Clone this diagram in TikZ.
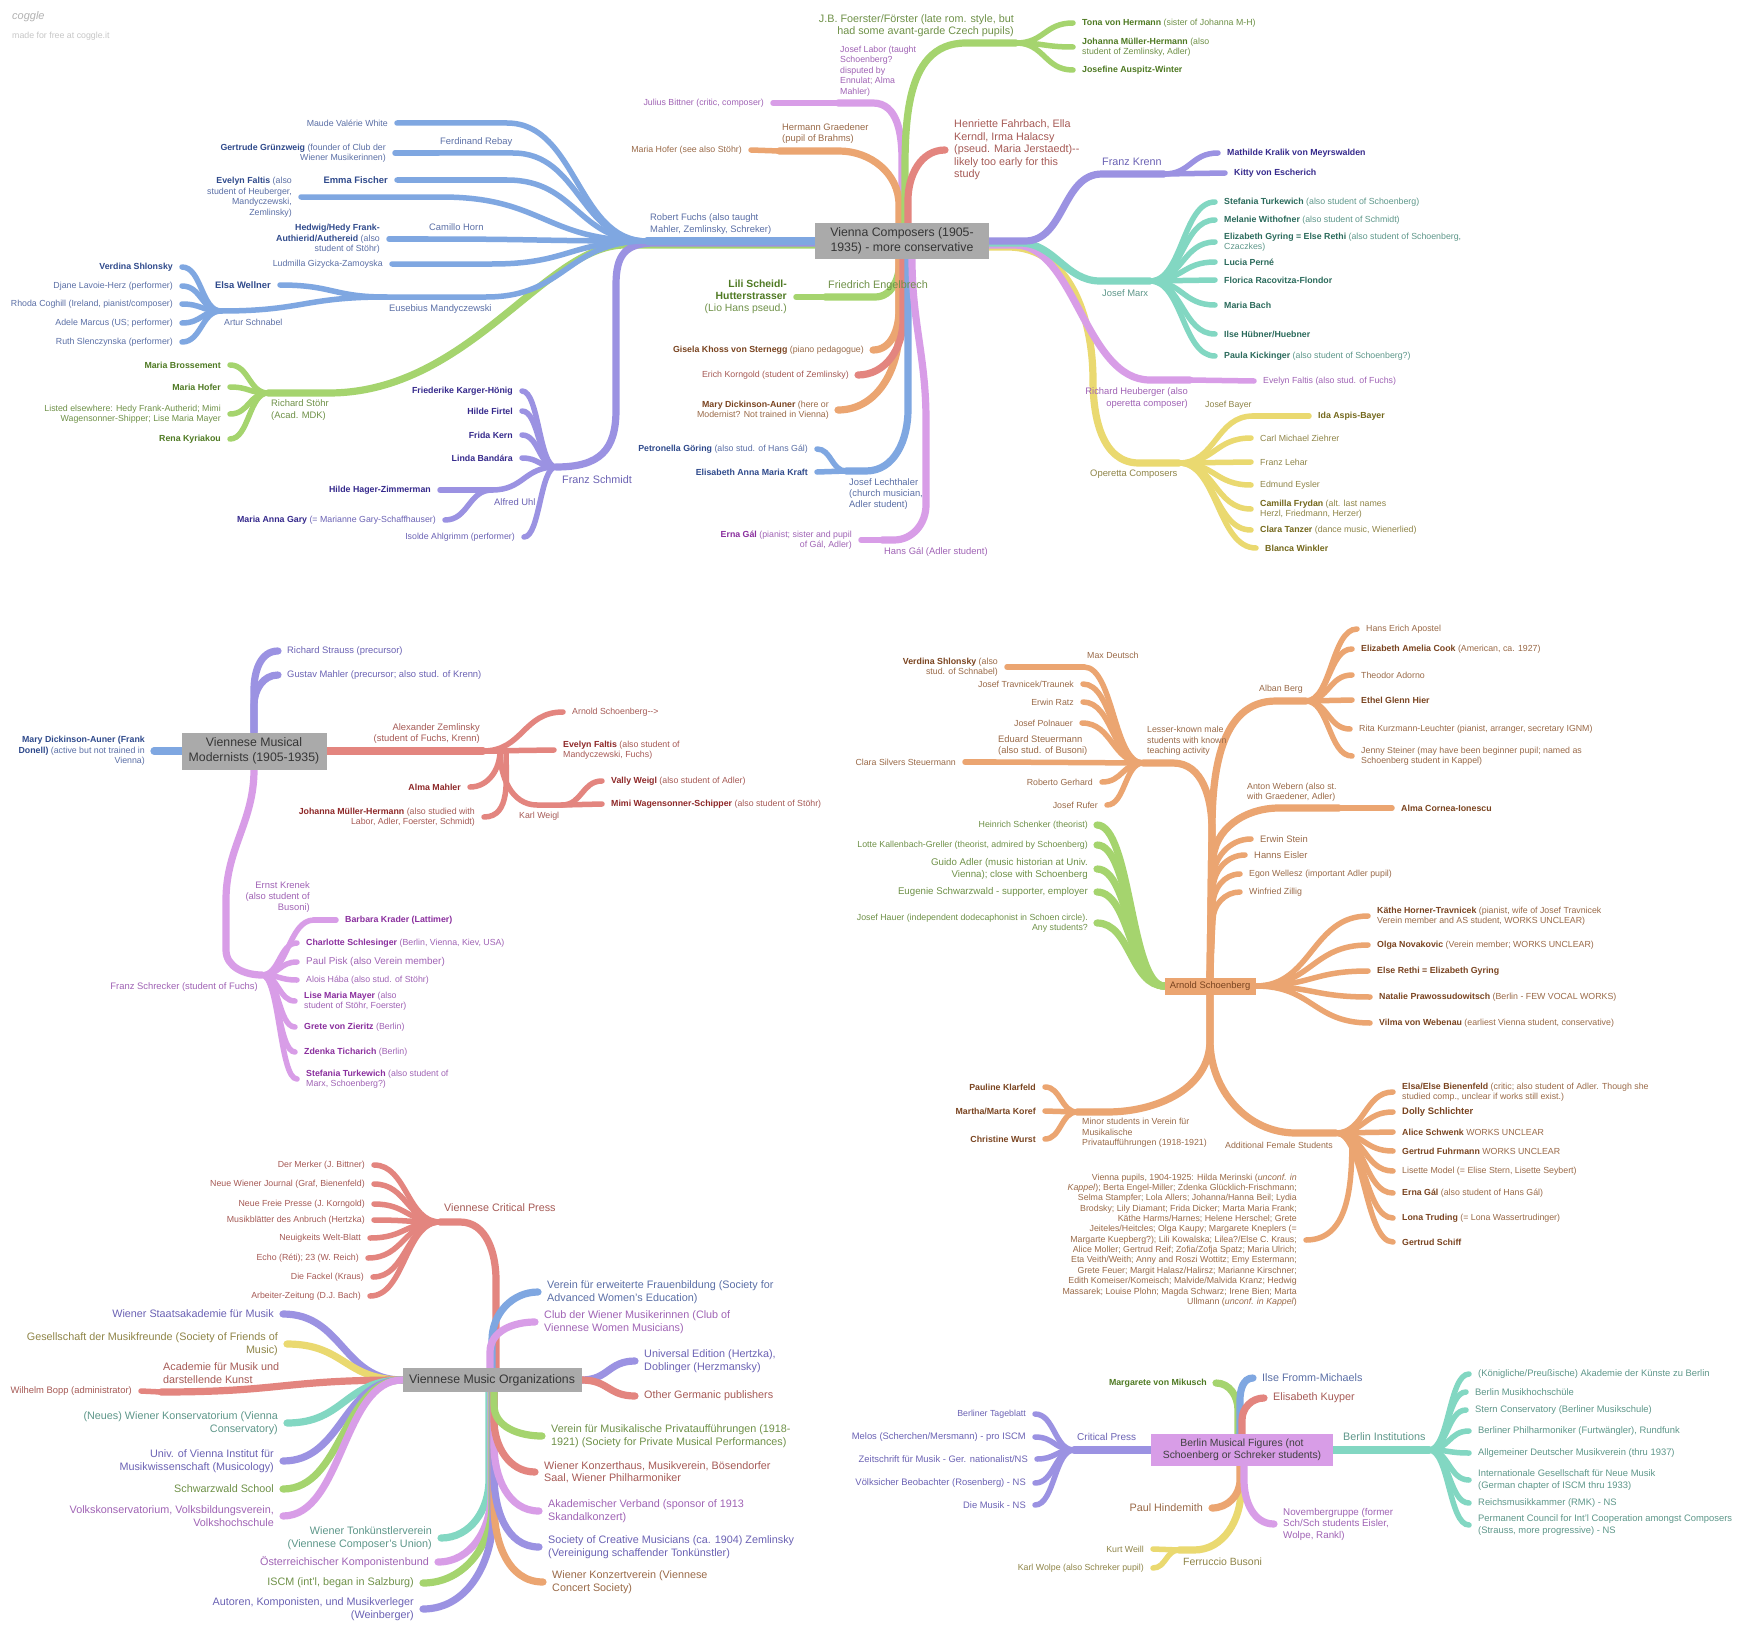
\documentclass[tikz,border=0pt]{standalone}
\usepackage{fontspec}
\setmainfont{Liberation Sans}
\usetikzlibrary{calc}
\definecolor{cB}{HTML}{7FA7E1}\definecolor{tB}{HTML}{2F4A8C}\definecolor{sB}{HTML}{5B6FA6}
\definecolor{cG}{HTML}{A5D46E}\definecolor{tG}{HTML}{4F7A23}\definecolor{sG}{HTML}{6F9148}
\definecolor{cP}{HTML}{9B92E2}\definecolor{tP}{HTML}{35298C}\definecolor{sP}{HTML}{6B62B4}
\definecolor{cK}{HTML}{D89DE7}\definecolor{tK}{HTML}{8A2E9E}\definecolor{sK}{HTML}{A063B5}
\definecolor{cO}{HTML}{EBA571}\definecolor{tO}{HTML}{7A4420}\definecolor{sO}{HTML}{9A6A48}
\definecolor{cR}{HTML}{E3857F}\definecolor{tR}{HTML}{8E2828}\definecolor{sR}{HTML}{A65A55}
\definecolor{cT}{HTML}{82D7C2}\definecolor{tT}{HTML}{2A6A5B}\definecolor{sT}{HTML}{5E978A}
\definecolor{cY}{HTML}{EAD970}\definecolor{tY}{HTML}{74681C}\definecolor{sY}{HTML}{8F8548}
\definecolor{boxg}{HTML}{AAAAAA}\definecolor{boxt}{HTML}{363636}
\colorlet{bc}{black}
\newcommand\fsA{\fontsize{8.8}{10.5}\selectfont}
\newcommand\fsB{\fontsize{9.4}{11.2}\selectfont}
\newcommand\fsC{\fontsize{10.8}{12.4}\selectfont}
\newcommand\fsD{\fontsize{12.3}{15}\selectfont}
\newcommand\nmb[1]{{\bfseries\color{bc}#1}}
\newcommand\conn[3]{\draw[#1] let \p1=(#2), \p2=(#3) in (\p1) .. controls ({0.5*\x1+0.5*\x2},\y1) and ({0.5*\x1+0.5*\x2},\y2) .. (\p2);}
\newcommand\connb[4]{\draw[#2] let \p1=(#3), \p2=(#4) in (\p1) .. controls ({0.5*\x1+0.5*\x2+0.5*(#1)},\y1) and ({0.5*\x1+0.5*\x2+0.5*(#1)},\y2) .. ({\x2+(#1)},\y2) -- (\p2);}
\pgfdeclarelayer{bgfill}\pgfdeclarelayer{lines}\pgfsetlayers{bgfill,lines,main}
\begin{document}
\begin{tikzpicture}[x=1pt,y=1pt,
  lf/.style={anchor=east,inner xsep=9pt,inner ysep=0pt,xshift=9pt,align=right,font=\fsA},
  rt/.style={anchor=west,inner xsep=9pt,inner ysep=0pt,xshift=-9pt,align=left,font=\fsA},
  lab/.style={inner sep=0pt,font=\fsA},
  br/.style={line width=5.5pt,line cap=round},
  tk/.style={line width=7.2pt,line cap=round},
  rbox/.style={fill=boxg,text=boxt,align=center,inner sep=0pt,font=\fsD},
  xB/.style={text=sB,execute at begin node={\colorlet{bc}{tB}}},
  xG/.style={text=sG,execute at begin node={\colorlet{bc}{tG}}},
  xP/.style={text=sP,execute at begin node={\colorlet{bc}{tP}}},
  xK/.style={text=sK,execute at begin node={\colorlet{bc}{tK}}},
  xO/.style={text=sO,execute at begin node={\colorlet{bc}{tO}}},
  xR/.style={text=sR,execute at begin node={\colorlet{bc}{tR}}},
  xT/.style={text=sT,execute at begin node={\colorlet{bc}{tT}}},
  xY/.style={text=sY,execute at begin node={\colorlet{bc}{tY}}}]
\useasboundingbox (0,0) rectangle (1746,-1643);
\begin{pgfonlayer}{bgfill}\fill[white] (0,0) rectangle (1746,-1643);\end{pgfonlayer}
% logo
\node[lab,anchor=west,text=black!30,font=\itshape\fontsize{11}{12}\selectfont] (logo) at (12,-17) {coggle};
\node[lab,anchor=west,text=black!22] (made) at (12,-36) {made for free at coggle.it};

% ===== Vienna Composers =====
\node[rbox,minimum width=174,minimum height=36] (vc) at (902,-241) {Vienna Composers (1905-\\1935) - more conservative};
\coordinate (fuchs) at (647,-241);
\node[lab,xB,font=\fsB,anchor=west,align=left] (fuchsL) at (650,-224) {Robert Fuchs (also taught\\Mahler, Zemlinsky, Schreker)};
\node[lf,xB] (mvw) at (388,-123) {Maude Valérie White};
\coordinate (rebay) at (438,-153);
\node[lab,xB,font=\fsB,anchor=west] (rebayL) at (440,-142) {Ferdinand Rebay};
\node[lf,xB] (ggr) at (386,-153) {\nmb{Gertrude Grünzweig} (founder of Club der\\Wiener Musikerinnen)};
\node[lf,xB,font=\fsB] (emma) at (388,-180) {\nmb{Emma Fischer}};
\node[lf,xB] (evf) at (292,-197) {\nmb{Evelyn Faltis} (also\\student of Heuberger,\\Mandyczewski,\\Zemlinsky)};
\coordinate (horn) at (427,-239);
\node[lab,xB,font=\fsB,anchor=west] (hornL) at (429,-227) {Camillo Horn};
\node[lf,xB] (hedy) at (380,-239) {\nmb{Hedwig/Hedy Frank-}\\\nmb{Authierid/Authereid} (also\\student of Stöhr)};
\node[lf,xB] (ludm) at (383,-264) {Ludmilla Gizycka-Zamoyska};
\coordinate (euseb) at (386,-297);
\node[lab,xB,font=\fsB,anchor=west] (eusebL) at (389,-309) {Eusebius Mandyczewski};
\node[lf,xB,font=\fsB] (elsa) at (271,-285) {\nmb{Elsa Wellner}};
\coordinate (schn) at (221,-311);
\node[lab,xB,anchor=west] (schnL) at (224,-322) {Artur Schnabel};
\node[lf,xB] (vsh) at (173,-267) {\nmb{Verdina Shlonsky}};
\node[lf,xB] (djl) at (173,-286) {Djane Lavoie-Herz (performer)};
\node[lf,xB] (rco) at (173,-304) {Rhoda Coghill (Ireland, pianist/composer)};
\node[lf,xB] (ama) at (173,-323) {Adele Marcus (US; performer)};
\node[lf,xB] (rsl) at (173,-342) {Ruth Slenczynska (performer)};
% Stoehr
\coordinate (stohr) at (268,-393);
\node[lab,xG,font=\fsB,anchor=west,align=left] (stohrL) at (271,-410) {Richard Stöhr\\(Acad. MDK)};
\node[lf,xG] (mbr) at (221,-365) {\nmb{Maria Brossement}};
\node[lf,xG] (mho) at (221,-387) {\nmb{Maria Hofer}};
\node[lf,xG] (lel) at (221,-414) {Listed elsewhere: Hedy Frank-Autherid; Mimi\\Wagensonner-Shipper; Lise Maria Mayer};
\node[lf,xG] (rky) at (221,-439) {\nmb{Rena Kyriakou}};
% Schmidt
\coordinate (schm) at (556,-467);
\node[lab,xP,font=\fsC,anchor=west] (schmL) at (562,-480) {Franz Schmidt};
\node[lf,xP] (fkh) at (513,-391) {\nmb{Friederike Karger-Hönig}};
\node[lf,xP] (hfi) at (513,-411) {\nmb{Hilde Firtel}};
\node[lf,xP] (fke) at (513,-435) {\nmb{Frida Kern}};
\node[lf,xP] (lba) at (513,-458) {\nmb{Linda Bandára}};
\coordinate (uhl) at (492,-490);
\node[lab,xP,font=\fsB,anchor=west] (uhlL) at (494,-502) {Alfred Uhl};
\node[lf,xP] (hhz) at (431,-490) {\nmb{Hilde Hager-Zimmerman}};
\node[lf,xP] (mag) at (436,-520) {\nmb{Maria Anna Gary} (= Marianne Gary-Schaffhauser)};
\node[lf,xP] (iah) at (515,-537) {Isolde Ahlgrimm (performer)};
% top
\coordinate (labor) at (838,-103);
\node[lab,xK,anchor=west,align=left] (laborL) at (840,-71) {Josef Labor (taught\\Schoenberg?\\disputed by\\Ennulat; Alma\\Mahler)};
\node[lf,xK] (jbit) at (764,-103) {Julius Bittner (critic, composer)};
\coordinate (graed) at (779,-151);
\node[lab,xO,font=\fsB,anchor=west,align=left] (graedL) at (782,-133.5) {Hermann Graedener\\(pupil of Brahms)};
\node[lf,xO] (mhof2) at (742,-150) {Maria Hofer (see also Stöhr)};
\coordinate (foer) at (1016,-43);
\node[lab,xG,font=\fsC,anchor=east,align=right] (foerL) at (1014,-26) {J.B. Foerster/Förster (late rom. style, but\\had some avant-garde Czech pupils)};
\node[rt,xG] (tona) at (1082,-23) {\nmb{Tona von Hermann} (sister of Johanna M-H)};
\node[rt,xG] (jmh) at (1082,-47) {\nmb{Johanna Müller-Hermann} (also\\student of Zemlinsky, Adler)};
\node[rt,xG] (jaw) at (1082,-70) {\nmb{Josefine Auspitz-Winter}};
\node[rt,xR,font=\fsC] (henr) at (954,-150) {Henriette Fahrbach, Ella\\Kerndl, Irma Halacsy\\(pseud. Maria Jerstaedt)-{}-\\likely too early for this\\study};
% bottom
\coordinate (engel) at (825,-297);
\node[lab,xG,font=\fsC,anchor=west] (engelL) at (828,-286) {Friedrich Engelbrech};
\node[lf,xG,font=\fontsize{10.4}{12}\selectfont] (lili) at (787,-297) {\nmb{Lili Scheidl-}\\\nmb{Hutterstrasser}\\(Lio Hans pseud.)};
\node[lf,xO] (gisela) at (864,-350) {\nmb{Gisela Khoss von Sternegg} (piano pedagogue)};
\node[lf,xR] (korn) at (849,-375) {Erich Korngold (student of Zemlinsky)};
\node[lf,xO] (mda) at (829,-410) {\nmb{Mary Dickinson-Auner} (here or\\Modernist? Not trained in Vienna)};
\coordinate (lecht) at (846,-471);
\node[lab,xB,font=\fsB,anchor=west,align=left] (lechtL) at (849,-494) {Josef Lechthaler\\(church musician,\\Adler student)};
\node[lf,xB] (pgo) at (808,-449) {\nmb{Petronella Göring} (also stud. of Hans Gál)};
\node[lf,xB] (eak) at (808,-472) {\nmb{Elisabeth Anna Maria Kraft}};
\coordinate (hgal) at (882,-540);
\node[lab,xK,font=\fsB,anchor=west] (hgalL) at (884,-552) {Hans Gál (Adler student)};
\node[lf,xK] (egal) at (852,-540) {\nmb{Erna Gál} (pianist; sister and pupil\\of Gál, Adler)};
% right
\coordinate (krenn) at (1164,-174);
\node[lab,xP,font=\fsC,anchor=west] (krennL) at (1102,-162) {Franz Krenn};
\node[rt,xP] (mkm) at (1227,-153) {\nmb{Mathilde Kralik von Meyrswalden}};
\node[rt,xP] (kve) at (1234,-173) {\nmb{Kitty von Escherich}};
\coordinate (marx) at (1150,-281);
\node[lab,xT,font=\fsB,anchor=west] (marxL) at (1102,-293) {Josef Marx};
\node[rt,xT] (stt) at (1224,-202) {\nmb{Stefania Turkewich} (also student of Schoenberg)};
\node[rt,xT] (mwi) at (1224,-220) {\nmb{Melanie Withofner} (also student of Schmidt)};
\node[rt,xT] (egy) at (1224,-242) {\nmb{Elizabeth Gyring = Else Rethi} (also student of Schoenberg,\\Czaczkes)};
\node[rt,xT] (lpe) at (1224,-262) {\nmb{Lucia Perné}};
\node[rt,xT] (frf) at (1224,-280) {\nmb{Florica Racovitza-Flondor}};
\node[rt,xT] (mba) at (1224,-305) {\nmb{Maria Bach}};
\node[rt,xT] (ihu) at (1224,-334) {\nmb{Ilse Hübner/Huebner}};
\node[rt,xT] (pki) at (1224,-356) {\nmb{Paula Kickinger} (also student of Schoenberg?)};
\coordinate (heub) at (1190,-380);
\node[lab,xK,font=\fsB,anchor=east,align=right] (heubL) at (1188,-398) {Richard Heuberger (also\\operetta composer)};
\node[rt,xK] (efa2) at (1263,-381) {Evelyn Faltis (also stud. of Fuchs)};
\coordinate (oper) at (1179,-463);
\node[lab,xY,font=\fsB,anchor=west] (operL) at (1090,-474) {Operetta Composers};
\coordinate (bayer) at (1253,-416);
\node[lab,xY,anchor=west] (bayerL) at (1205,-405) {Josef Bayer};
\node[rt,xY] (iab) at (1318,-416) {\nmb{Ida Aspis-Bayer}};
\node[rt,xY] (cmz) at (1260,-438) {Carl Michael Ziehrer};
\node[rt,xY] (fle) at (1260,-462) {Franz Lehar};
\node[rt,xY] (eey) at (1260,-485) {Edmund Eysler};
\node[rt,xY] (cfr) at (1260,-509) {\nmb{Camilla Frydan} (alt. last names\\Herzl, Friedmann, Herzer)};
\node[rt,xY] (cta) at (1260,-530) {\nmb{Clara Tanzer} (dance music, Wienerlied)};
\node[rt,xY] (bwi) at (1265,-548) {\nmb{Blanca Winkler}};

% ===== Modernists =====
\node[rbox,minimum width=145,minimum height=37] (vm) at (254,-751) {Viennese Musical\\Modernists (1905-1935)};
\node[lf,xB] (mda2) at (145,-751) {\nmb{Mary Dickinson-Auner (Frank}\\\nmb{Donell)} (active but not trained in\\Vienna)};
\node[rt,xP,font=\fsB] (rst) at (287,-651) {Richard Strauss (precursor)};
\node[rt,xP,font=\fsB] (gma) at (287,-675) {Gustav Mahler (precursor; also stud. of Krenn)};
\coordinate (zeml) at (483,-751);
\node[lab,xR,font=\fsB,anchor=east,align=right] (zemlL) at (480,-733.5) {Alexander Zemlinsky\\(student of Fuchs, Krenn)};
\node[rt,xR] (asch) at (572,-712) {Arnold Schoenberg-{}->};
\node[rt,xR] (efa3) at (563,-750) {\nmb{Evelyn Faltis} (also student of\\Mandyczewski, Fuchs)};
\node[lf,xR] (alma) at (461,-787) {\nmb{Alma Mahler}};
\node[lf,xR] (jmh2) at (475,-817) {\nmb{Johanna Müller-Hermann} (also studied with\\Labor, Adler, Foerster, Schmidt)};
\coordinate (weigl) at (562,-805);
\node[lab,xR,anchor=west] (weiglL) at (519,-816) {Karl Weigl};
\node[rt,xR] (vwe) at (611,-781) {\nmb{Vally Weigl} (also student of Adler)};
\node[rt,xR] (mws) at (611,-804) {\nmb{Mimi Wagensonner-Schipper} (also student of Stöhr)};
\coordinate (schreck) at (262,-975);
\node[lab,xK,font=\fsB,anchor=east] (schreckL) at (258,-987) {Franz Schrecker (student of Fuchs)};
\coordinate (krenek) at (314,-920);
\node[lab,xK,font=\fsB,anchor=east,align=right] (krenekL) at (310,-897) {Ernst Krenek\\(also student of\\Busoni)};
\node[rt,xK] (bkr) at (345,-920) {\nmb{Barbara Krader (Lattimer)}};
\node[rt,xK] (csc) at (306,-943) {\nmb{Charlotte Schlesinger} (Berlin, Vienna, Kiev, USA)};
\node[rt,xK,font=\fontsize{9.9}{11}\selectfont] (ppi) at (306,-962) {Paul Pisk (also Verein member)};
\node[rt,xK] (aha) at (306,-980) {Alois Hába (also stud. of Stöhr)};
\node[rt,xK] (lmm) at (304,-1001) {\nmb{Lise Maria Mayer} (also\\student of Stöhr, Foerster)};
\node[rt,xK] (gvz) at (304,-1027) {\nmb{Grete von Zieritz} (Berlin)};
\node[rt,xK] (zti) at (304,-1052) {\nmb{Zdenka Ticharich} (Berlin)};
\node[rt,xK] (stu2) at (306,-1079) {\nmb{Stefania Turkewich} (also student of\\Marx, Schoenberg?)};

% ===== Organizations =====
\node[rbox,minimum width=179,minimum height=24] (vo) at (492,-1380) {Viennese Music Organizations};
\coordinate (press) at (440,-1222);
\node[lab,xR,font=\fsC,anchor=west] (pressL) at (444,-1208) {Viennese Critical Press};
\node[lf,xR] (dme) at (365,-1165) {Der Merker (J. Bittner)};
\node[lf,xR] (nwj) at (365,-1184) {Neue Wiener Journal (Graf, Bienenfeld)};
\node[lf,xR] (nfp) at (365,-1204) {Neue Freie Presse (J. Korngold)};
\node[lf,xR] (mdan) at (365,-1220) {Musikblätter des Anbruch (Hertzka)};
\node[lf,xR] (nwb) at (361,-1238) {Neuigkeits Welt-Blatt};
\node[lf,xR] (ech) at (359,-1258) {Echo (Réti); 23 (W. Reich)};
\node[lf,xR] (dfa) at (364,-1277) {Die Fackel (Kraus)};
\node[lf,xR] (azb) at (361,-1296) {Arbeiter-Zeitung (D.J. Bach)};
\node[lf,xP,font=\fsC] (wsa) at (274,-1314) {Wiener Staatsakademie für Musik};
\node[lf,xY,font=\fsC] (gmf) at (278,-1344) {Gesellschaft der Musikfreunde (Society of Friends of\\Music)};
\coordinate (acad) at (161,-1392);
\node[lab,xR,font=\fsC,anchor=west,align=left] (acadL) at (163,-1373) {Academie für Musik und\\darstellende Kunst};
\node[lf,xR,font=\fsB] (wbo) at (132,-1391) {Wilhelm Bopp (administrator)};
\node[lf,xT,font=\fsC] (wko) at (278,-1423) {(Neues) Wiener Konservatorium (Vienna\\Conservatory)};
\node[lf,xP,font=\fsC] (uvi) at (274,-1461) {Univ. of Vienna Institut für\\Musikwissenschaft (Musicology)};
\node[lf,xG,font=\fsC] (sws) at (274,-1489) {Schwarzwald School};
\node[lf,xK,font=\fsC] (vks) at (274,-1516) {Volkskonservatorium, Volksbildungsverein,\\Volkshochschule};
\node[lf,xT,font=\fsC] (wtv) at (432,-1538) {Wiener Tonkünstlerverein\\(Viennese Composer's Union)};
\node[lf,xK,font=\fsC] (okb) at (429,-1562) {Österreichischer Komponistenbund};
\node[lf,xG,font=\fsC] (iscm) at (414,-1583) {ISCM (int'l, began in Salzburg)};
\node[lf,xP,font=\fsC] (akm) at (414,-1609) {Autoren, Komponisten, und Musikverleger\\(Weinberger)};
\node[rt,xB,font=\fsC] (vef) at (547,-1292) {Verein für erweiterte Frauenbildung (Society for\\Advanced Women's Education)};
\node[rt,xK,font=\fsC] (cwm) at (544,-1322) {Club der Wiener Musikerinnen (Club of\\Viennese Women Musicians)};
\node[rt,xP,font=\fsC] (ued) at (644,-1361) {Universal Edition (Hertzka),\\Doblinger (Herzmansky)};
\node[rt,xR,font=\fsC] (ogp) at (644,-1396) {Other Germanic publishers};
\node[rt,xG,font=\fsC] (vmp) at (551,-1436) {Verein für Musikalische Privataufführungen (1918-\\1921) (Society for Private Musical Performances)};
\node[rt,xR,font=\fsC] (wkh) at (544,-1472) {Wiener Konzerthaus, Musikverein, Bösendorfer\\Saal, Wiener Philharmoniker};
\node[rt,xK,font=\fsC] (akv) at (548,-1511) {Akademischer Verband (sponsor of 1913\\Skandalkonzert)};
\node[rt,xP,font=\fsC] (scm) at (548,-1547) {Society of Creative Musicians (ca. 1904) Zemlinsky\\(Vereinigung schaffender Tonkünstler)};
\node[rt,xO,font=\fsC] (wkv) at (552,-1582) {Wiener Konzertverein (Viennese\\Concert Society)};

% ===== Schoenberg =====
\node[rbox,fill=cO,text=tO,font=\fsB,minimum width=91,minimum height=17] (as) at (1210,-986) {Arnold Schoenberg};
\coordinate (berg) at (1306,-701);
\node[lab,xO,anchor=west] (bergL) at (1259,-689) {Alban Berg};
\node[rt,xO] (hea) at (1366,-629) {Hans Erich Apostel};
\node[rt,xO] (eac) at (1361,-649) {\nmb{Elizabeth Amelia Cook} (American, ca. 1927)};
\node[rt,xO] (tad) at (1361,-675) {Theodor Adorno};
\node[rt,xO] (egh) at (1361,-700) {\nmb{Ethel Glenn Hier}};
\node[rt,xO] (rkl) at (1359,-729) {Rita Kurzmann-Leuchter (pianist, arranger, secretary IGNM)};
\node[rt,xO] (jst) at (1361,-756) {Jenny Steiner (may have been beginner pupil; named as\\Schoenberg student in Kappel)};
\coordinate (webern) at (1339,-808);
\node[lab,xO,anchor=west,align=left] (webernL) at (1247,-792) {Anton Webern (also st.\\with Graedener, Adler)};
\node[rt,xO] (acio) at (1401,-808) {\nmb{Alma Cornea-Ionescu}};
\node[rt,xO,font=\fsB] (est) at (1260,-839) {Erwin Stein};
\node[rt,xO,font=\fsB] (hei) at (1254,-855) {Hanns Eisler};
\node[rt,xO] (ewe) at (1249,-874) {Egon Wellesz (important Adler pupil)};
\node[rt,xO] (wzi) at (1249,-892) {Winfried Zillig};
\coordinate (lesser) at (1143,-763);
\node[lab,xO,anchor=west,align=left] (lesserL) at (1147,-741) {Lesser-known male\\students with known\\teaching activity};
\coordinate (maxd) at (1084,-667);
\node[lab,xO,anchor=west] (maxdL) at (1087,-655) {Max Deutsch};
\node[lf,xO] (vsh2) at (998,-667) {\nmb{Verdina Shlonsky} (also\\stud. of Schnabel)};
\node[lf,xO] (jtr) at (1074,-684) {Josef Travnicek/Traunek};
\node[lf,xO] (era) at (1074,-702) {Erwin Ratz};
\node[lf,xO] (jpo) at (1073,-723) {Josef Polnauer};
\coordinate (steu) at (995,-762);
\node[lab,xO,font=\fsB,anchor=west,align=left] (steuL) at (998,-745.5) {Eduard Steuermann\\(also stud. of Busoni)};
\node[lf,xO] (css) at (956,-762) {Clara Silvers Steuermann};
\node[lf,xO] (rge) at (1093,-782) {Roberto Gerhard};
\node[lf,xO] (jru) at (1098,-805) {Josef Rufer};
\node[lf,xG] (hsc) at (1088,-825) {Heinrich Schenker (theorist)};
\node[lf,xG] (lkg) at (1088,-845) {Lotte Kallenbach-Greller (theorist, admired by Schoenberg)};
\node[lf,xG,font=\fontsize{9.7}{11.5}\selectfont] (gad) at (1088,-869) {Guido Adler (music historian at Univ.\\Vienna); close with Schoenberg};
\node[lf,xG,font=\fontsize{9.7}{11.5}\selectfont] (esw) at (1088,-892) {Eugenie Schwarzwald - supporter, employer};
\node[lf,xG] (jha) at (1088,-923) {Josef Hauer (independent dodecaphonist in Schoen circle).\\Any students?};
\node[rt,xO] (kht) at (1377,-916) {\nmb{Käthe Horner-Travnicek} (pianist, wife of Josef Travnicek\\Verein member and AS student, WORKS UNCLEAR)};
\node[rt,xO] (onv) at (1377,-945) {\nmb{Olga Novakovic} (Verein member; WORKS UNCLEAR)};
\node[rt,xO] (ere) at (1377,-971) {\nmb{Else Rethi = Elizabeth Gyring}};
\node[rt,xO] (npr) at (1379,-997) {\nmb{Natalie Prawossudowitsch} (Berlin - FEW VOCAL WORKS)};
\node[rt,xO] (vvw) at (1379,-1023) {\nmb{Vilma von Webenau} (earliest Vienna student, conservative)};
\coordinate (minor) at (1077,-1112);
\node[lab,xO,anchor=west,align=left] (minorL) at (1082,-1133) {Minor students in Verein für\\Musikalische\\Privataufführungen (1918-1921)};
\node[lf,xO] (pkl) at (1036,-1087) {\nmb{Pauline Klarfeld}};
\node[lf,xO] (mko) at (1036,-1111) {\nmb{Martha/Marta Koref}};
\node[lf,xO] (cwu) at (1036,-1139) {\nmb{Christine Wurst}};
\coordinate (addf) at (1336,-1133);
\node[lab,xO,anchor=west] (addfL) at (1225,-1145) {Additional Female Students};
\node[rt,xO] (ebi) at (1402,-1092) {\nmb{Elsa/Else Bienenfeld} (critic; also student of Adler. Though she\\studied comp., unclear if works still exist.)};
\node[rt,xO,font=\fsB] (dsc) at (1402,-1112) {\nmb{Dolly Schlichter}};
\node[rt,xO] (asw) at (1402,-1132) {\nmb{Alice Schwenk} WORKS UNCLEAR};
\node[rt,xO] (gfu) at (1402,-1151) {\nmb{Gertrud Fuhrmann} WORKS UNCLEAR};
\node[rt,xO] (lmo) at (1402,-1171) {Lisette Model (= Elise Stern, Lisette Seybert)};
\node[rt,xO] (ega2) at (1402,-1193) {\nmb{Erna Gál} (also student of Hans Gál)};
\node[rt,xO] (ltr) at (1402,-1218) {\nmb{Lona Truding} (= Lona Wassertrudinger)};
\node[rt,xO] (gsc) at (1402,-1242) {\nmb{Gertrud Schiff}};
\node[lf,xO,font=\fontsize{8.8}{10.35}\selectfont] (vpu) at (1297,-1240) {Vienna pupils, 1904-1925: Hilda Merinski (\textit{unconf. in}\\\textit{Kappel}); Berta Engel-Miller; Zdenka Glücklich-Frischmann;\\Selma Stampfer; Lola Allers; Johanna/Hanna Beil; Lydia\\Brodsky; Lily Diamant; Frida Dicker; Marta Maria Frank;\\Käthe Harms/Harnes; Helene Herschel; Grete\\Jeiteles/Heitcles; Olga Kaupy; Margarete Kneplers (=\\Margarte Kuepberg?); Lili Kowalska; Lilea?/Else C. Kraus;\\Alice Moller; Gertrud Reif; Zofia/Zofja Spatz; Maria Ulrich;\\Eta Veith/Weith; Anny and Roszi Wottitz; Emy Estermann;\\Grete Feuer; Margit Halasz/Halirsz; Marianne Kirschner;\\Edith Komeiser/Komeisch; Malvide/Malvida Kranz; Hedwig\\Massarek; Louise Plohn; Magda Schwarz; Irene Bien; Marta\\Ullmann (\textit{unconf. in Kappel})};

% ===== Berlin =====
\node[rbox,fill=cK,text=black!75,font=\fontsize{10.4}{11.7}\selectfont,minimum width=182,minimum height=32] (bm) at (1242,-1450) {Berlin Musical Figures (not\\Schoenberg or Schreker students)};
\node[rt,xB,font=\fsC] (ifm) at (1262,-1378) {Ilse Fromm-Michaels};
\node[rt,xR,font=\fsC] (eku) at (1273,-1398) {Elisabeth Kuyper};
\node[lf,xG] (mvm) at (1207,-1383) {\nmb{Margarete von Mikusch}};
\coordinate (cpress) at (1074,-1450);
\node[lab,xP,font=\fontsize{10}{12}\selectfont,anchor=west] (cpressL) at (1077,-1437) {Critical Press};
\node[lf,xP] (btb) at (1026,-1414) {Berliner Tageblatt};
\node[lf,xP,font=\fsB] (mel) at (1026,-1437) {Melos (Scherchen/Mersmann) - pro ISCM};
\node[lf,xP,font=\fsB] (zfm) at (1028,-1459) {Zeitschrift für Musik - Ger. nationalist/NS};
\node[lf,xP,font=\fsB] (vbe) at (1026,-1483) {Völksicher Beobachter (Rosenberg) - NS};
\node[lf,xP,font=\fsB] (dmu) at (1026,-1505) {Die Musik - NS};
\coordinate (binst) at (1429,-1450);
\node[lab,xT,font=\fsC,anchor=west] (binstL) at (1343,-1437) {Berlin Institutions};
\node[rt,xT,font=\fsB] (akb) at (1478,-1374) {(Königliche/Preußische) Akademie der Künste zu Berlin};
\node[rt,xT,font=\fsB] (bmh) at (1475,-1392) {Berlin Musikhochschüle};
\node[rt,xT,font=\fsB] (sco) at (1475,-1410) {Stern Conservatory (Berliner Musikschule)};
\node[rt,xT,font=\fsB] (bph) at (1478,-1431) {Berliner Philharmoniker (Furtwängler), Rundfunk};
\node[rt,xT,font=\fsB] (adm) at (1478,-1453) {Allgemeiner Deutscher Musikverein (thru 1937)};
\node[rt,xT,font=\fsB] (igm) at (1478,-1480) {Internationale Gesellschaft für Neue Musik\\(German chapter of ISCM thru 1933)};
\node[rt,xT,font=\fsB] (rmk) at (1478,-1503) {Reichsmusikkammer (RMK) - NS};
\node[rt,xT,font=\fsB] (pci) at (1478,-1525) {Permanent Council for Int'l Cooperation amongst Composers\\(Strauss, more progressive) - NS};
\node[lf,xO,font=\fsC] (hind) at (1203,-1508) {Paul Hindemith};
\node[rt,xK,font=\fontsize{9.8}{11.5}\selectfont] (ngr) at (1283,-1524) {Novembergruppe (former\\Sch/Sch students Eisler,\\Wolpe, Rankl)};
\coordinate (busoni) at (1179,-1550);
\node[lab,xY,font=\fontsize{10.5}{12}\selectfont,anchor=west] (busoniL) at (1183,-1562) {Ferruccio Busoni};
\node[lf,xY] (kwe) at (1144,-1549) {Kurt Weill};
\node[lf,xY] (kwo) at (1144,-1568) {Karl Wolpe (also Schreker pupil)};

% ================= connectors =================
\begin{pgfonlayer}{lines}
% Vienna composers left
\draw[tk,cG] ($(vc.west)+(0,-4)$) -- (625,-245) .. controls (545,-245) and (470,-392) .. ($(stohr)+(62,0)$) -- (stohr);
\draw[tk,cP] ($(vc.west)+(0,-2)$) -- (655,-243) .. controls (625,-243) and (616,-255) .. (616,-285) -- (616,-410) .. controls (616,-450) and (600,-467) .. (schm);
\draw[tk,cB] (vc.west) -- (fuchs);
\connb{110}{br,cB}{fuchs}{mvw.east}
\connb{75}{br,cB}{fuchs}{rebay}
\draw[br,cB] (rebay) -- (ggr.east);
\connb{110}{br,cB}{fuchs}{emma.east}
\connb{140}{br,cB}{fuchs}{evf.east}
\conn{br,cB}{fuchs}{horn}
\draw[br,cB] (horn) -- (hedy.east);
\connb{100}{br,cB}{fuchs}{ludm.east}
\connb{100}{br,cB}{fuchs}{euseb}
\conn{br,cB}{euseb}{elsa.east}
\conn{br,cB}{euseb}{schn}
\conn{br,cB}{schn}{vsh.east}
\conn{br,cB}{schn}{djl.east}
\conn{br,cB}{schn}{rco.east}
\conn{br,cB}{schn}{ama.east}
\conn{br,cB}{schn}{rsl.east}
\conn{br,cG}{stohr}{mbr.east}
\conn{br,cG}{stohr}{mho.east}
\conn{br,cG}{stohr}{lel.east}
\conn{br,cG}{stohr}{rky.east}
\conn{br,cP}{schm}{fkh.east}
\conn{br,cP}{schm}{hfi.east}
\conn{br,cP}{schm}{fke.east}
\conn{br,cP}{schm}{lba.east}
\conn{br,cP}{schm}{uhl}
\draw[br,cP] (uhl) -- (hhz.east);
\conn{br,cP}{uhl}{mag.east}
\conn{br,cP}{schm}{iah.east}
% top
\draw[tk,cK] (vc.north) -- (902,-160) to[out=90,in=0] ($(labor)+(35,0)$) -- (labor);
\draw[br,cK] (labor) -- (jbit.east);
\draw[tk,cO] ($(vc.north)+(-3,0)$) -- (899,-205) to[out=90,in=0] ($(graed)+(60,0)$) -- (graed);
\draw[br,cO] (graed) -- (mhof2.east);
\draw[tk,cG] ($(vc.north)+(3,0)$) -- (905,-200) to[out=90,in=180] ($(foer)+(-50,0)$) -- (foer);
\conn{br,cG}{foer}{tona.west}
\conn{br,cG}{foer}{jmh.west}
\conn{br,cG}{foer}{jaw.west}
\draw[tk,cR] ($(vc.north)+(6,0)$) -- (908,-200) to[out=90,in=180] (henr.west);
% bottom
\draw[tk,cG] ($(vc.south)+(-2,0)$) to[out=270,in=0] ($(engel)+(50,0)$) -- (engel);
\draw[br,cG] (engel) -- (lili.east);
\draw[tk,cO] ($(vc.south)+(-3,0)$) -- (899,-310) to[out=270,in=0] (gisela.east);
\draw[tk,cO] ($(vc.south)+(-3,0)$) -- (899,-330) to[out=270,in=0] (mda.east);
\draw[tk,cR] ($(vc.south)+(1,0)$) -- (903,-320) to[out=270,in=0] (korn.east);
\draw[tk,cB] ($(vc.south)+(6,0)$) -- (908,-410) to[out=270,in=0] ($(lecht)+(20,0)$) -- (lecht);
\conn{br,cB}{lecht}{pgo.east}
\draw[br,cB] (lecht) -- (eak.east);
\draw[tk,cK] ($(vc.south)+(10,0)$) to[out=270,in=90] (926,-420) -- (926,-505) to[out=270,in=0] ($(hgal)+(12,0)$) -- (hgal);
\draw[br,cK] (hgal) -- (egal.east);
% right
\draw[tk,cY] ($(vc.east)+(0,-6)$) -- (1008,-247) to[out=0,in=90] (1093,-380) to[out=270,in=180] ($(oper)+(-40,0)$) -- (oper);
\draw[tk,cK] ($(vc.east)+(0,-4)$) -- (1015,-245) .. controls (1075,-245) and (1085,-380) .. ($(heub)+(-40,0)$) -- (heub);
\draw[tk,cT] ($(vc.east)+(0,-2)$) -- (1020,-243) to[out=0,in=180] ($(marx)+(-50,0)$) -- (marx);
\draw[tk,cP] (vc.east) -- (1025,-241) to[out=0,in=180] ($(krenn)+(-62,0)$) -- (krenn);
\conn{br,cP}{krenn}{mkm.west}
\draw[br,cP] (krenn) -- (kve.west);
\conn{br,cT}{marx}{stt.west}
\conn{br,cT}{marx}{mwi.west}
\conn{br,cT}{marx}{egy.west}
\conn{br,cT}{marx}{lpe.west}
\conn{br,cT}{marx}{frf.west}
\conn{br,cT}{marx}{mba.west}
\conn{br,cT}{marx}{ihu.west}
\conn{br,cT}{marx}{pki.west}
\draw[br,cK] (heub) -- (efa2.west);
\conn{br,cY}{oper}{bayer}
\draw[br,cY] (bayer) -- (iab.west);
\conn{br,cY}{oper}{cmz.west}
\conn{br,cY}{oper}{fle.west}
\conn{br,cY}{oper}{eey.west}
\conn{br,cY}{oper}{cfr.west}
\conn{br,cY}{oper}{cta.west}
\conn{br,cY}{oper}{bwi.west}
% Modernists
\draw[tk,cB] (vm.west) -- (mda2.east);
\draw[tk,cP] (vm.north) -- (254,-690) to[out=90,in=180] (rst.west);
\draw[tk,cP] (vm.north) -- (254,-705) to[out=90,in=180] (gma.west);
\draw[tk,cR] (vm.east) -- (zeml);
\conn{br,cR}{zeml}{asch.west}
\draw[br,cR] (zeml) -- (efa3.west);
\draw[br,cR] (zeml) -- (500,-751) to[out=270,in=0] (alma.east);
\draw[br,cR] (zeml) -- (506,-751) to[out=270,in=0] (jmh2.east);
\draw[br,cR] (zeml) -- (500,-751) to[out=270,in=180] ($(weigl)+(-25,0)$) -- (weigl);
\conn{br,cR}{weigl}{vwe.west}
\draw[br,cR] (weigl) -- (mws.west);
\draw[tk,cK] (vm.south) to[out=270,in=90] (226,-900) -- (226,-950) to[out=270,in=180] (schreck);
\conn{br,cK}{schreck}{krenek}
\draw[br,cK] (krenek) -- (bkr.west);
\conn{br,cK}{schreck}{csc.west}
\conn{br,cK}{schreck}{ppi.west}
\conn{br,cK}{schreck}{aha.west}
\conn{br,cK}{schreck}{lmm.west}
\conn{br,cK}{schreck}{gvz.west}
\conn{br,cK}{schreck}{zti.west}
\conn{br,cK}{schreck}{stu2.west}
% Organizations
\draw[tk,cR] ($(vo.north)+(4,0)$) -- (496,-1280) to[out=90,in=0] ($(press)+(20,0)$) -- (press);
\conn{br,cR}{press}{dme.east}
\conn{br,cR}{press}{nwj.east}
\conn{br,cR}{press}{nfp.east}
\conn{br,cR}{press}{mdan.east}
\conn{br,cR}{press}{nwb.east}
\conn{br,cR}{press}{ech.east}
\conn{br,cR}{press}{dfa.east}
\conn{br,cR}{press}{azb.east}
\conn{tk,cP}{vo.west}{wsa.east}
\conn{tk,cY}{vo.west}{gmf.east}
\conn{tk,cR}{vo.west}{acad}
\draw[br,cR] (acad) -- (wbo.east);
\conn{tk,cT}{vo.west}{wko.east}
\conn{tk,cP}{vo.west}{uvi.east}
\conn{tk,cG}{vo.west}{sws.east}
\conn{tk,cK}{vo.west}{vks.east}
\draw[tk,cT] ($(vo.south)+(-3,0)$) -- (489,-1480) to[out=270,in=0] (wtv.east);
\draw[tk,cK] ($(vo.south)+(-1,0)$) -- (491,-1495) to[out=270,in=0] (okb.east);
\draw[tk,cG] (vo.south) -- (492,-1505) to[out=270,in=0] (iscm.east);
\draw[tk,cP] ($(vo.south)+(1,0)$) -- (493,-1515) to[out=270,in=0] (akm.east);
\draw[tk,cB] (vo.north) -- (492,-1340) to[out=90,in=180] (vef.west);
\draw[tk,cK] ($(vo.north)+(-2,0)$) -- (490,-1352) to[out=90,in=180] (cwm.west);
\conn{tk,cP}{vo.east}{ued.west}
\conn{tk,cR}{vo.east}{ogp.west}
\draw[tk,cO] ($(vo.south)+(2,0)$) -- (494,-1505) to[out=270,in=180] (wkv.west);
\draw[tk,cP] ($(vo.south)+(2,0)$) -- (494,-1475) to[out=270,in=180] (scm.west);
\draw[tk,cK] ($(vo.south)+(2,0)$) -- (494,-1445) to[out=270,in=180] (akv.west);
\draw[tk,cR] ($(vo.south)+(2,0)$) -- (494,-1420) to[out=270,in=180] (wkh.west);
\draw[tk,cG] ($(vo.south)+(2,0)$) -- (494,-1405) to[out=270,in=180] (vmp.west);
% Schoenberg
\draw[tk,cO] (as.north) -- (1212,-830) to[out=90,in=180] ($(berg)+(-30,0)$) -- (berg);
\draw[tk,cO] (as.north) -- (1212,-830) to[out=90,in=0] ($(lesser)+(30,0)$) -- (lesser);
\draw[tk,cO] (as.north) -- (1213,-862) to[out=90,in=180] ($(webern)+(-60,0)$) -- (webern);
\draw[br,cO] (as.north) -- (1213,-880) to[out=90,in=180] (est.west);
\draw[br,cO] (as.north) -- (1213,-890) to[out=90,in=180] (hei.west);
\draw[br,cO] (as.north) -- (1213,-905) to[out=90,in=180] (ewe.west);
\draw[br,cO] (as.north) -- (1213,-920) to[out=90,in=180] (wzi.west);
\conn{br,cO}{berg}{hea.west}
\conn{br,cO}{berg}{eac.west}
\conn{br,cO}{berg}{tad.west}
\conn{br,cO}{berg}{egh.west}
\conn{br,cO}{berg}{rkl.west}
\conn{br,cO}{berg}{jst.west}
\draw[br,cO] (webern) -- (acio.west);
\conn{br,cO}{lesser}{maxd}
\draw[br,cO] (maxd) -- (vsh2.east);
\conn{br,cO}{lesser}{jtr.east}
\conn{br,cO}{lesser}{era.east}
\conn{br,cO}{lesser}{jpo.east}
\draw[br,cO] (lesser) -- (steu);
\draw[br,cO] (steu) -- (css.east);
\conn{br,cO}{lesser}{rge.east}
\conn{br,cO}{lesser}{jru.east}
\conn{tk,cG}{as.west}{hsc.east}
\conn{tk,cG}{as.west}{lkg.east}
\conn{tk,cG}{as.west}{gad.east}
\conn{tk,cG}{as.west}{esw.east}
\conn{tk,cG}{as.west}{jha.east}
\conn{br,cO}{as.east}{kht.west}
\conn{br,cO}{as.east}{onv.west}
\conn{br,cO}{as.east}{ere.west}
\conn{br,cO}{as.east}{npr.west}
\conn{br,cO}{as.east}{vvw.west}
\draw[tk,cO] (as.south) -- (1210,-1040) to[out=270,in=0] ($(minor)+(30,0)$) -- (minor);
\draw[tk,cO] (as.south) -- (1210,-1040) to[out=270,in=180] ($(addf)+(-40,0)$) -- (addf);
\conn{br,cO}{minor}{pkl.east}
\conn{br,cO}{minor}{mko.east}
\conn{br,cO}{minor}{cwu.east}
\conn{br,cO}{addf}{ebi.west}
\conn{br,cO}{addf}{dsc.west}
\conn{br,cO}{addf}{asw.west}
\conn{br,cO}{addf}{gfu.west}
\conn{br,cO}{addf}{lmo.west}
\conn{br,cO}{addf}{ega2.west}
\conn{br,cO}{addf}{ltr.west}
\conn{br,cO}{addf}{gsc.west}
\draw[br,cO] (addf) -- (1352,-1133) to[out=270,in=0] (vpu.east);
% Berlin
\draw[tk,cG] ($(bm.north)+(-4,0)$) -- (1238,-1410) to[out=90,in=0] (mvm.east);
\draw[tk,cB] ($(bm.north)+(-2,0)$) -- (1240,-1400) to[out=90,in=180] (ifm.west);
\draw[tk,cR] (bm.north) -- (1242,-1420) to[out=90,in=180] (eku.west);
\draw[tk,cP] (bm.west) -- (cpress);
\conn{br,cP}{cpress}{btb.east}
\conn{br,cP}{cpress}{mel.east}
\conn{br,cP}{cpress}{zfm.east}
\conn{br,cP}{cpress}{vbe.east}
\conn{br,cP}{cpress}{dmu.east}
\draw[tk,cT] (bm.east) -- (binst);
\conn{br,cT}{binst}{akb.west}
\conn{br,cT}{binst}{bmh.west}
\conn{br,cT}{binst}{sco.west}
\conn{br,cT}{binst}{bph.west}
\conn{br,cT}{binst}{adm.west}
\conn{br,cT}{binst}{igm.west}
\conn{br,cT}{binst}{rmk.west}
\conn{br,cT}{binst}{pci.west}
\draw[tk,cY] ($(bm.south)+(-1,0)$) -- (1241,-1490) to[out=270,in=0] ($(busoni)+(15,0)$) -- (busoni);
\draw[tk,cO] ($(bm.south)+(-2,0)$) -- (1240,-1480) to[out=270,in=0] (hind.east);
\draw[tk,cK] ($(bm.south)+(2,0)$) -- (1244,-1480) to[out=270,in=180] (ngr.west);
\draw[br,cY] (busoni) -- (kwe.east);
\conn{br,cY}{busoni}{kwo.east}
\end{pgfonlayer}
\end{tikzpicture}
\end{document}
